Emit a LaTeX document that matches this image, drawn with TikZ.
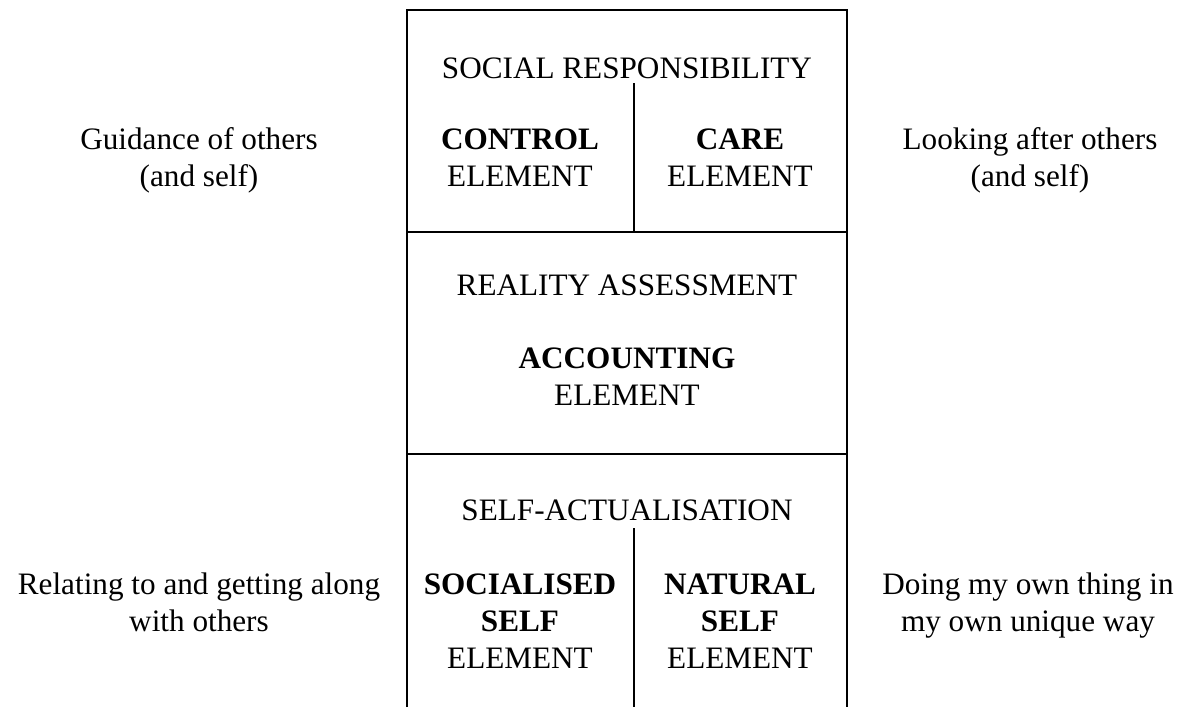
\documentclass[tikz,border=0pt]{standalone}
\usepackage{fontspec}
\setmainfont{Liberation Serif}

\tikzset{
  lbl/.style={align=center, anchor=base, inner sep=0pt, font=\fontsize{15.6}{18.5}\selectfont},
  frame/.style={line width=1.2pt},
}

\begin{document}
\begin{tikzpicture}[x=0.5pt,y=-0.5pt]
      \useasboundingbox (0,0) rectangle (1189,707);

      % Frame
      \draw [frame] (407,707) -- (407,10) -- (847,10) -- (847,707);
      \draw [frame] (407,232) -- (847,232);
      \draw [frame] (407,454) -- (847,454);
      \draw [frame] (634,83) -- (634,232);
      \draw [frame] (634,528) -- (634,707);

      % Social responsibility (base = last line)
      \node [lbl] (social) at (627,78) {SOCIAL RESPONSIBILITY};
      \node [lbl] (control) at (520,186) {\textbf{CONTROL}\\ELEMENT};
      \node [lbl] (care) at (740,186) {\textbf{CARE}\\ELEMENT};
      \node [lbl] (guidance) at (199,186) {Guidance of others\\(and self)};
      \node [lbl] (looking) at (1030,186) {Looking after others\\(and self)};

      % Reality assessment
      \node [lbl] (reality) at (627,295) {REALITY ASSESSMENT};
      \node [lbl] (accounting) at (627,405) {\textbf{ACCOUNTING}\\ELEMENT};

      % Self-actualisation
      \node [lbl] (selfact) at (627,520) {SELF-ACTUALISATION};
      \node [lbl] (socialised) at (520,668) {\textbf{SOCIALISED}\\\textbf{SELF}\\ELEMENT};
      \node [lbl] (natural) at (740,668) {\textbf{NATURAL}\\\textbf{SELF}\\ELEMENT};
      \node [lbl] (relating) at (199,631) {Relating to and getting along\\with others};
      \node [lbl] (doing) at (1028,631) {Doing my own thing in\\my own unique way};
\end{tikzpicture}
\end{document}
